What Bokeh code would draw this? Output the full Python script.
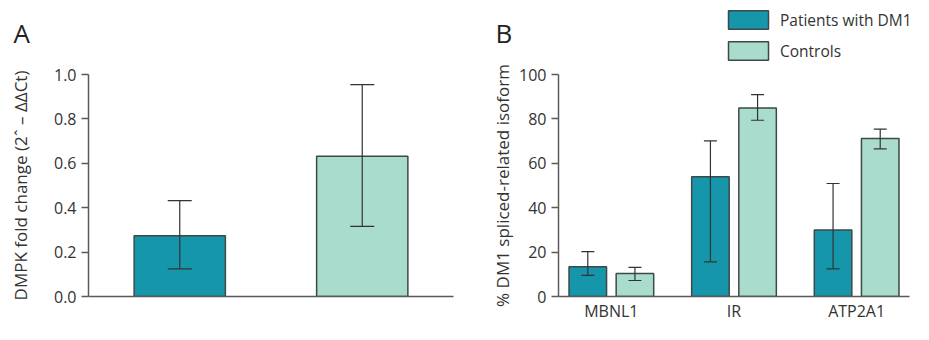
from bokeh.plotting import figure
from bokeh.models import (FactorRange, Range1d, ColumnDataSource, Whisker, TeeHead,
                          Legend, LegendItem, Label, FixedTicker, PrintfTickFormatter)
from bokeh.transform import dodge
from bokeh.layouts import row, column
from bokeh.embed import file_html
from bokeh.resources import INLINE

# ---- data: panel A ----
groups_a = ["Patients with DM1", "Controls"]
fold_change = [0.274, 0.632]
fold_upper = [0.432, 0.954]
fold_lower = [0.124, 0.316]
y_ticks_a = [0.0, 0.2, 0.4, 0.6, 0.8, 1.0]

# ---- data: panel B ----
genes = ["MBNL1", "IR", "ATP2A1"]
patients = [13.4, 53.9, 29.9]
patients_upper = [20.2, 70.1, 50.9]
patients_lower = [9.5, 15.6, 12.4]
controls = [10.4, 84.9, 71.2]
controls_upper = [13.1, 90.9, 75.4]
controls_lower = [7.2, 79.4, 66.5]
y_ticks_b = [0, 20, 40, 60, 80, 100]
series_names = ["Patients with DM1", "Controls"]
panel_letters = ["A", "B"]

TEAL = "#1596ab"
MINT = "#a9dccc"
EDGE = "#3d4848"
AXIS = "#5a5a5a"
TEXT = "#333333"
FONT = "Open Sans"


def style(p, ticks, label_standoff):
    p.xgrid.grid_line_color = None
    p.ygrid.grid_line_color = None
    p.outline_line_color = None
    p.background_fill_color = "white"
    p.border_fill_color = "white"
    for ax in (p.xaxis, p.yaxis):
        ax.axis_line_color = AXIS
        ax.axis_line_width = 1.5
        ax.minor_tick_line_color = None
        ax.major_label_text_font = FONT
        ax.major_label_text_font_size = "16px"
        ax.major_label_text_color = TEXT
    p.yaxis.ticker = FixedTicker(ticks=ticks)
    p.yaxis.major_tick_out = 7
    p.yaxis.major_tick_in = 0
    p.yaxis.major_tick_line_color = AXIS
    p.yaxis.major_tick_line_width = 1.5
    p.yaxis.major_label_standoff = 5
    p.yaxis.axis_label_text_font = FONT
    p.yaxis.axis_label_text_font_size = "17px"
    p.yaxis.axis_label_text_font_style = "normal"
    p.yaxis.axis_label_text_color = TEXT
    p.yaxis.axis_label_standoff = label_standoff
    p.xaxis.major_tick_line_color = None
    p.xaxis.major_tick_out = 0
    p.xaxis.major_tick_in = 0
    p.xaxis.major_label_standoff = 3


src_b = ColumnDataSource(dict(gene=genes, patients=patients,
                              patients_upper=patients_upper,
                              patients_lower=patients_lower,
                              controls=controls, controls_upper=controls_upper,
                              controls_lower=controls_lower))

# ---------------- header strip: panel letters + legend ----------------
HEAD_W, HEAD_H = 913, 62
head = figure(width=HEAD_W, height=HEAD_H, x_range=Range1d(0, HEAD_W),
              y_range=Range1d(HEAD_H, 0), x_axis_type=None, y_axis_type=None,
              output_backend="svg", toolbar_location=None, min_border=0)
head.xgrid.grid_line_color = None
head.ygrid.grid_line_color = None
head.outline_line_color = None
head.border_fill_color = "white"
head.background_fill_color = "white"
key_p = head.vbar(x="patients", top="patients", width=1, source=src_b, fill_color=TEAL,
                  line_color=EDGE, line_width=1.5, visible=False)
key_c = head.vbar(x="controls", top="controls", width=1, source=src_b, fill_color=MINT,
                  line_color=EDGE, line_width=1.5, visible=False)
head.add_layout(Legend(items=[LegendItem(label=series_names[0], renderers=[key_p]),
                              LegendItem(label=series_names[1], renderers=[key_c])],
                       location=(723, 0), glyph_width=50, glyph_height=23,
                       label_height=23, spacing=8, padding=0, margin=0,
                       label_standoff=7, border_line_color=None,
                       background_fill_alpha=0, inactive_fill_alpha=0,
                       label_text_font=FONT,
                       label_text_font_size="15.5px", label_text_color=TEXT))
for letter, lx in zip(panel_letters, (13, 495)):
    head.add_layout(Label(x=lx, y=32, text=letter, text_font=FONT,
                          text_font_size="26px", text_color="#222222",
                          text_baseline="alphabetic"))

# ---------------- Panel A ----------------
src_a = ColumnDataSource(dict(group=groups_a, value=fold_change,
                              upper=fold_upper, lower=fold_lower,
                              color=[TEAL, MINT]))
PH = 324 - HEAD_H
pa = figure(width=462, height=PH, x_range=FactorRange(factors=groups_a),
            y_range=Range1d(0, 1.0), output_backend="svg", toolbar_location=None,
            min_border_left=88, min_border_right=9, min_border_top=12,
            min_border_bottom=25)
pa.vbar(x="group", top="value", width=0.5, source=src_a, fill_color="color",
        line_color=EDGE, line_width=1.5)
pa.add_layout(Whisker(source=src_a, base="group", upper="upper", lower="lower",
                      line_color=TEXT, line_width=1.2, level="overlay",
                      upper_head=TeeHead(size=24, line_color=TEXT, line_width=1.2),
                      lower_head=TeeHead(size=24, line_color=TEXT, line_width=1.2)))
style(pa, y_ticks_a, 19)
pa.yaxis.formatter = PrintfTickFormatter(format="%.1f")
pa.yaxis.axis_label = "DMPK fold change (2ˆ – ΔΔCt)"
pa.xaxis.major_label_text_color = None

# ---------------- Panel B ----------------
pb = figure(width=451, height=PH,
            x_range=FactorRange(factors=genes, factor_padding=0.16),
            y_range=Range1d(0, 100), output_backend="svg", toolbar_location=None,
            min_border_left=96, min_border_right=4, min_border_top=12,
            min_border_bottom=25)
OFF = 0.223
W = 0.355
xp = dodge("gene", -OFF, range=pb.x_range)
xc = dodge("gene", OFF, range=pb.x_range)
pb.vbar(x=xp, top="patients", width=W, source=src_b, fill_color=TEAL,
        line_color=EDGE, line_width=1.5)
pb.vbar(x=xc, top="controls", width=W, source=src_b, fill_color=MINT,
        line_color=EDGE, line_width=1.5)
for base, up, lo in ((xp, "patients_upper", "patients_lower"),
                     (xc, "controls_upper", "controls_lower")):
    pb.add_layout(Whisker(source=src_b, base=base, upper=up, lower=lo,
                          line_color=TEXT, line_width=1.2, level="overlay",
                          upper_head=TeeHead(size=13, line_color=TEXT, line_width=1.2),
                          lower_head=TeeHead(size=13, line_color=TEXT, line_width=1.2)))
style(pb, y_ticks_b, 2)
pb.yaxis.axis_label = "% DM1 spliced-related isoform"

layout = column(head, row(pa, pb))
open("out.html", "w").write(file_html(layout, INLINE))
